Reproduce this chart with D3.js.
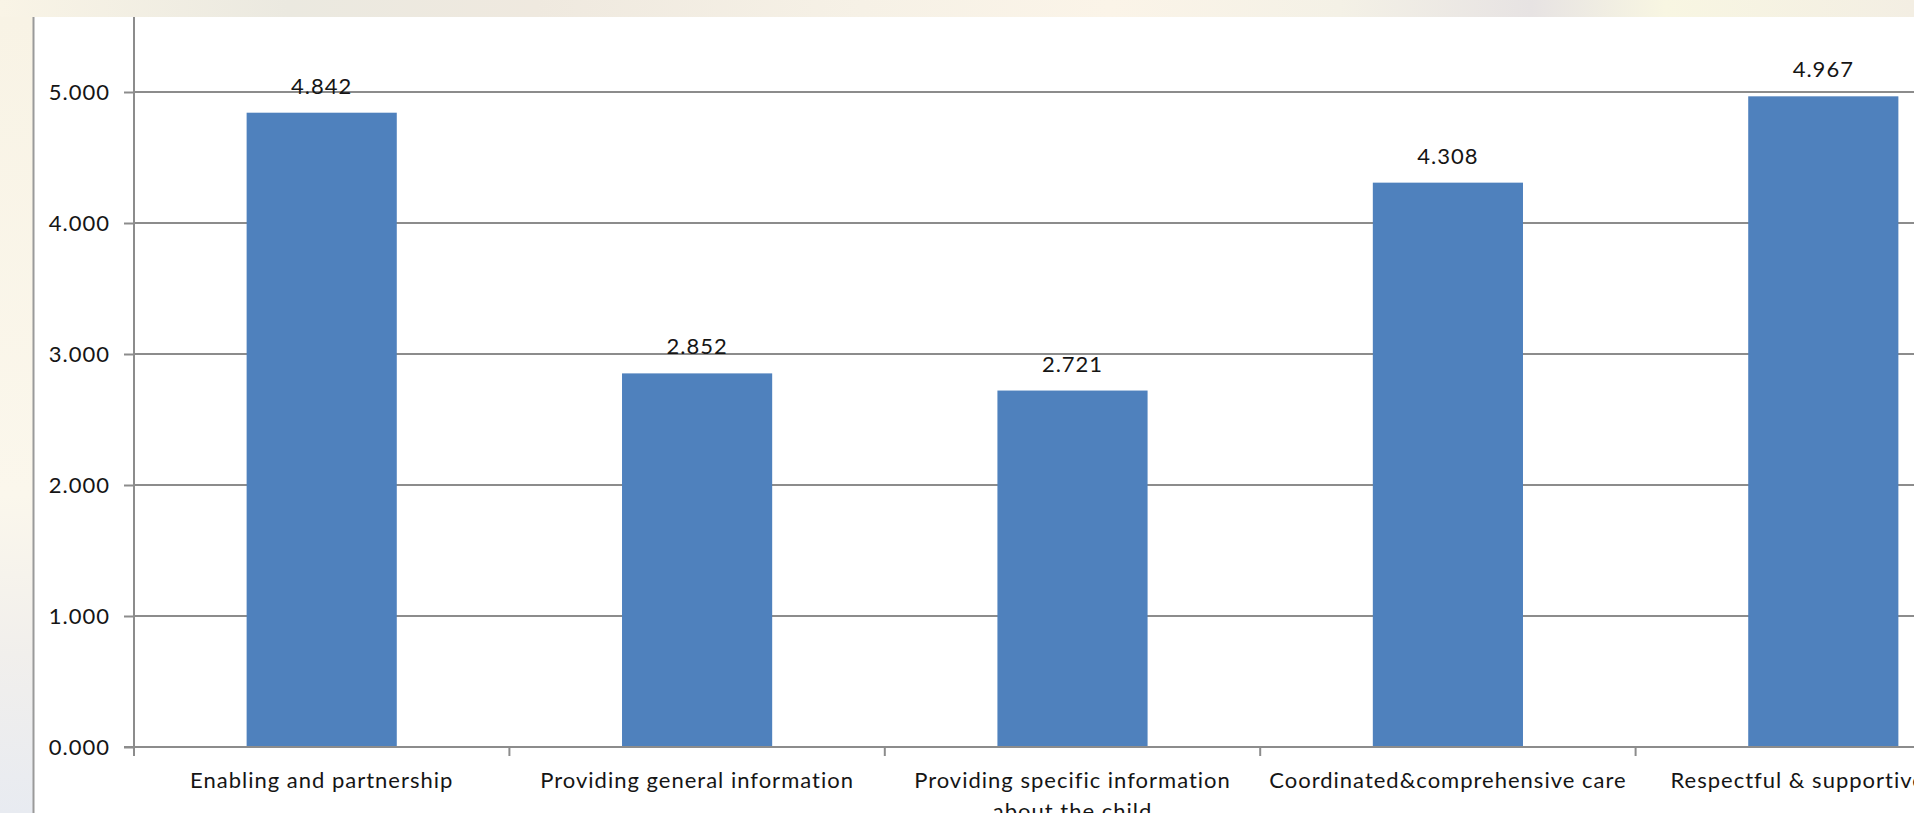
<!DOCTYPE html>
<html lang="en">

<head>
  <meta charset="utf-8">
  <title>Scores by domain</title>
  <script src="https://cdn.jsdelivr.net/npm/d3@7"></script>
  <style>
    body { margin: 0; background: #fff; overflow: hidden; }
    svg { display: block; }
    text { font-family: Lato, "Noto Sans", sans-serif; fill: #151515; letter-spacing: 1px; }
  </style>
</head>

<body>
  <div id="container"></div>

  <script>
    // chart data
    var categories = [
      "Enabling and partnership",
      "Providing general information",
      "Providing specific information about the child",
      "Coordinated&comprehensive care",
      "Respectful & supportive care"
    ];
    var values = [4.842, 2.852, 2.721, 4.308, 4.967];
    var yTicks = [0, 1, 2, 3, 4, 5, 6];

    var w = 1914, h = 813;
    // the picture is a crop of a bigger excel chart, so the plot runs off the right edge
    var plot = { left: 134, bottom: 747, step: 375.4, unit: 131 };

    var svg = d3.select("#container").append("svg")
      .attr("width", w)
      .attr("height", h);

    // cream window background on the top and left strips
    var defs = svg.append("defs");
    var topGrad = defs.append("linearGradient").attr("id", "topGrad");
    [["0%", "#f9f4e6"], ["15%", "#ebe9e0"], ["28%", "#efe9df"], ["45%", "#f6f1e6"], ["58%", "#fbf4e8"],
     ["70%", "#f4f1e6"], ["80%", "#e7e3e3"], ["87%", "#f8f6e2"], ["100%", "#f3eee3"]]
      .forEach(function(s) { topGrad.append("stop").attr("offset", s[0]).attr("stop-color", s[1]); });
    var leftGrad = defs.append("linearGradient").attr("id", "leftGrad")
      .attr("x1", 0).attr("y1", 0).attr("x2", 0).attr("y2", 1);
    [["0%", "#f8f3e5"], ["60%", "#fbf7ec"], ["80%", "#f1efec"], ["100%", "#e8ebf1"]]
      .forEach(function(s) { leftGrad.append("stop").attr("offset", s[0]).attr("stop-color", s[1]); });

    svg.append("rect").attr("x", 0).attr("y", 0).attr("width", w).attr("height", 17).attr("fill", "url(#topGrad)");
    svg.append("rect").attr("x", 0).attr("y", 17).attr("width", 33).attr("height", h - 17).attr("fill", "url(#leftGrad)");
    svg.append("line").attr("x1", 33.5).attr("x2", 33.5).attr("y1", 17).attr("y2", h)
      .attr("stroke", "#9a9a9a").attr("stroke-width", 2);

    defs.append("clipPath").attr("id", "clip").append("rect")
      .attr("x", 34).attr("y", 17).attr("width", w - 34).attr("height", h - 17);
    var g = svg.append("g").attr("clip-path", "url(#clip)");

    var x = d3.scaleBand()
      .domain(categories)
      .range([plot.left, plot.left + plot.step * categories.length])
      .paddingInner(0.6)
      .paddingOuter(0.3);

    var y = d3.scaleLinear()
      .domain([0, 6])
      .range([plot.bottom, plot.bottom - 6 * plot.unit]);

    // gridlines
    g.selectAll("line.grid")
      .data(yTicks)
      .enter()
      .append("line")
      .attr("class", "grid")
      .attr("x1", plot.left)
      .attr("x2", w)
      .attr("y1", function(d) { return y(d); })
      .attr("y2", function(d) { return y(d); })
      .attr("stroke", "#8c8c8c")
      .attr("stroke-width", 2);

    // y axis
    var yAxis = d3.axisLeft(y)
      .tickValues(yTicks)
      .tickFormat(d3.format(".3f"))
      .tickSize(10)
      .tickPadding(14);
    var ya = g.append("g").attr("transform", "translate(" + plot.left + ",0)").call(yAxis);
    ya.select(".domain").remove();
    ya.selectAll(".tick line").attr("stroke", "#8c8c8c").attr("stroke-width", 2);
    ya.selectAll(".tick text").style("font-size", "22px").attr("fill", "#151515");
    g.append("line")
      .attr("x1", plot.left).attr("x2", plot.left)
      .attr("y1", 0).attr("y2", plot.bottom + 1)
      .attr("stroke", "#8c8c8c").attr("stroke-width", 2);

    // bars
    g.selectAll("rect.bar")
      .data(values)
      .enter()
      .append("rect")
      .attr("class", "bar")
      .attr("x", function(d, i) { return x(categories[i]); })
      .attr("y", function(d) { return y(d); })
      .attr("width", x.bandwidth())
      .attr("height", function(d) { return y(0) - y(d); })
      .attr("fill", "#4f81bd");

    // x axis line and boundary ticks
    g.append("line")
      .attr("x1", plot.left - 10).attr("x2", w)
      .attr("y1", y(0)).attr("y2", y(0))
      .attr("stroke", "#8c8c8c").attr("stroke-width", 2);
    g.selectAll("line.xtick")
      .data(d3.range(categories.length + 1))
      .enter()
      .append("line")
      .attr("class", "xtick")
      .attr("x1", function(i) { return plot.left + i * x.step(); })
      .attr("x2", function(i) { return plot.left + i * x.step(); })
      .attr("y1", y(0))
      .attr("y2", y(0) + 9)
      .attr("stroke", "#8c8c8c")
      .attr("stroke-width", 2);

    // value labels
    g.selectAll("text.value")
      .data(values)
      .enter()
      .append("text")
      .attr("class", "value")
      .attr("x", function(d, i) { return x(categories[i]) + x.bandwidth() / 2; })
      .attr("y", function(d) { return y(d) - 19; })
      .attr("text-anchor", "middle")
      .style("font-size", "22px")
      .text(function(d) { return d3.format(".3f")(d); });

    // category labels, wrapped to the band width
    var labels = g.selectAll("text.cat")
      .data(categories)
      .enter()
      .append("text")
      .attr("class", "cat")
      .attr("x", function(d) { return x(d) + x.bandwidth() / 2; })
      .attr("y", plot.bottom + 41)
      .attr("text-anchor", "middle")
      .style("font-size", "22px");

    labels.each(function(d) {
      var t = d3.select(this);
      var words = d.split(" "), line = [];
      var span = t.append("tspan").attr("x", t.attr("x")).attr("dy", 0);
      words.forEach(function(word) {
        line.push(word);
        span.text(line.join(" "));
        if (span.node().getComputedTextLength() > x.step() - 8 && line.length > 1) {
          line.pop();
          span.text(line.join(" "));
          line = [word];
          span = t.append("tspan").attr("x", t.attr("x")).attr("dy", 31).text(word);
        }
      });
    });
  </script>

</body>

</html>
